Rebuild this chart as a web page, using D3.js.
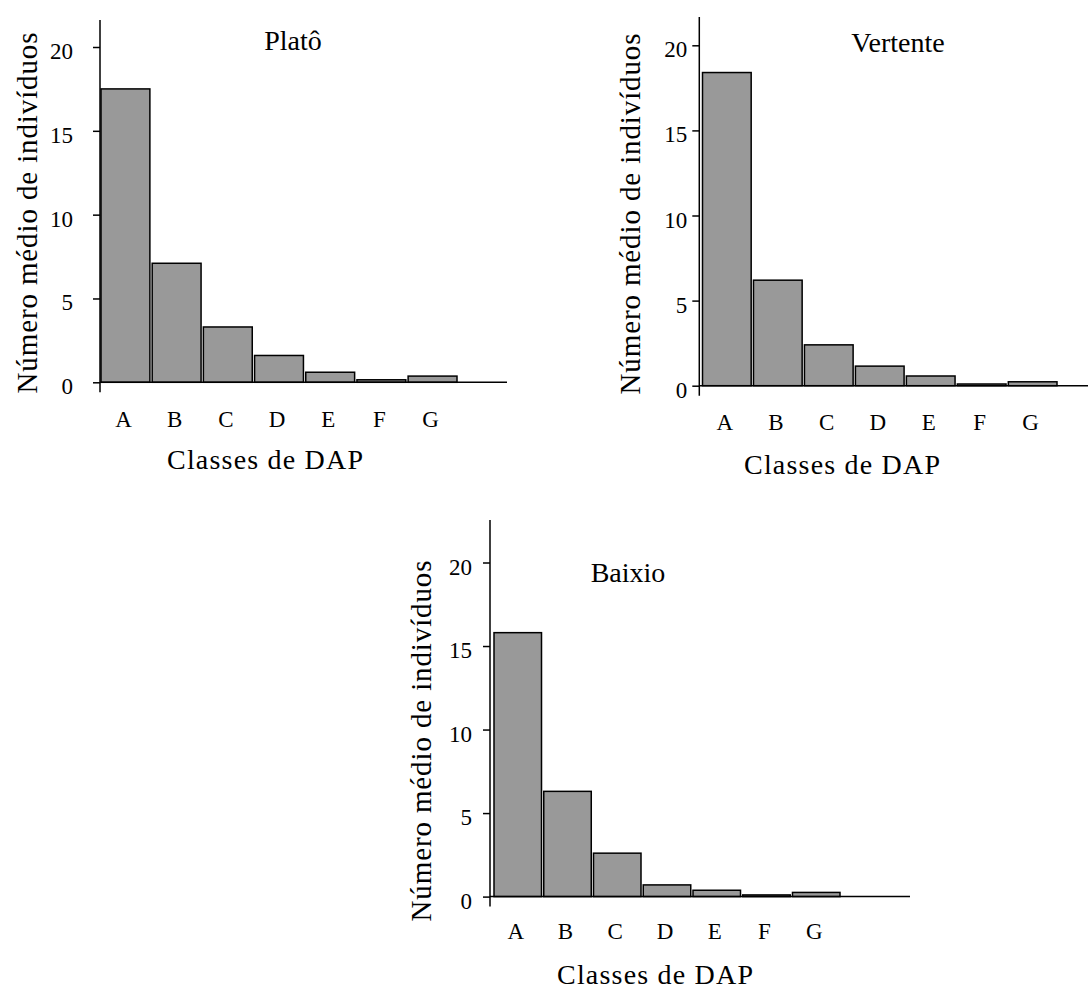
<!DOCTYPE html>
<html>
<head>
<meta charset="utf-8">
<script src="https://cdn.jsdelivr.net/npm/d3@7"></script>
<style>
  html, body { margin: 0; padding: 0; background: #fff; }
  svg { display: block; }
  text { font-family: "Liberation Serif", "Times New Roman", serif; fill: #000; }
</style>
</head>
<body>
<script>
// ---------- data ----------
const categories = ["A", "B", "C", "D", "E", "F", "G"];
const platoValues = [17.5, 7.1, 3.3, 1.6, 0.6, 0.15, 0.37];
const vertenteValues = [18.4, 6.2, 2.4, 1.15, 0.57, 0.1, 0.23];
const baixioValues = [15.8, 6.3, 2.6, 0.7, 0.38, 0.1, 0.25];
const yTickValues = [0, 5, 10, 15, 20];
const panelTitles = ["Platô", "Vertente", "Baixio"];
const xAxisTitle = "Classes de DAP";
const yAxisTitle = "Número médio de indivíduos";

// ---------- layout (pixels) ----------
const layouts = [
  { axisX: 100, y0: 382.3, y20: 47,  yTop: 20,  xEnd: 507,  bandStart: 101, bandEnd: 457,
    tickPad: 20, titleX: 293, titleY: 50, xTitleX: 265, xTitleY: 469, catY: 427, yLabX: 37, yLabY: 213 },
  { axisX: 699.3, y0: 385.7, y20: 45.3, yTop: 17, xEnd: 1088, bandStart: 702.5, bandEnd: 1057,
    tickPad: 5, titleX: 898, titleY: 52, xTitleX: 842, xTitleY: 474, catY: 430, yLabX: 640, yLabY: 214 },
  { axisX: 490, y0: 896.6, y20: 562.5, yTop: 520, xEnd: 910, bandStart: 494, bandEnd: 840,
    tickPad: 11, titleX: 628, titleY: 582, xTitleX: 655, xTitleY: 984, catY: 939, yLabX: 431, yLabY: 741 }
];
const seriesList = [platoValues, vertenteValues, baixioValues];

const W = 1088, H = 992;
const svg = d3.select("body").append("svg").attr("width", W).attr("height", H);
svg.append("rect").attr("width", W).attr("height", H).attr("fill", "#fff");

seriesList.forEach((values, i) => {
  const L = layouts[i];
  const g = svg.append("g");

  const y = d3.scaleLinear().domain([0, 20]).range([L.y0, L.y20]);
  const x = d3.scaleBand().domain(categories).range([L.bandStart, L.bandEnd])
    .paddingInner(0.045).paddingOuter(0);

  // bars
  g.selectAll("rect.bar").data(values).join("rect")
    .attr("class", "bar")
    .attr("x", (d, j) => x(categories[j]))
    .attr("width", x.bandwidth())
    .attr("y", d => y(d))
    .attr("height", d => y(0) - y(d))
    .attr("fill", "#999999")
    .attr("stroke", "#000")
    .attr("stroke-width", 1.5);

  // y axis ticks & labels
  const yAxis = d3.axisLeft(y).tickValues(yTickValues).tickSize(7).tickPadding(L.tickPad)
    .tickFormat(d3.format("d"));
  const ya = g.append("g").attr("transform", `translate(${L.axisX},0)`).call(yAxis);
  ya.select(".domain").remove();
  ya.selectAll(".tick line").attr("stroke", "#000").attr("stroke-width", 1.5);
  ya.selectAll(".tick text")
    .attr("font-family", "Liberation Serif, serif")
    .attr("font-size", 23).attr("dy", "0.5em").attr("fill", "#000");

  // axis lines
  g.append("line")
    .attr("x1", L.axisX).attr("x2", L.axisX)
    .attr("y1", L.yTop).attr("y2", y(0) + 10)
    .attr("stroke", "#000").attr("stroke-width", 1.5);
  g.append("line")
    .attr("x1", L.axisX).attr("x2", L.xEnd)
    .attr("y1", y(0)).attr("y2", y(0))
    .attr("stroke", "#000").attr("stroke-width", 1.5);

  // category labels
  g.selectAll("text.cat").data(categories).join("text")
    .attr("class", "cat")
    .attr("x", d => x(d) + x.bandwidth() / 2 - 2)
    .attr("y", L.catY)
    .attr("text-anchor", "middle")
    .attr("font-size", 23)
    .text(d => d);

  // panel title
  g.append("text")
    .attr("x", L.titleX).attr("y", L.titleY)
    .attr("text-anchor", "middle").attr("font-size", 28)
    .text(panelTitles[i]);

  // x axis title
  g.append("text")
    .attr("x", L.xTitleX).attr("y", L.xTitleY)
    .attr("text-anchor", "middle").attr("font-size", 28)
    .attr("textLength", 196).attr("lengthAdjust", "spacing")
    .text(xAxisTitle);

  // y axis title
  g.append("text")
    .attr("transform", `translate(${L.yLabX},${L.yLabY}) rotate(-90)`)
    .attr("text-anchor", "middle").attr("font-size", 29)
    .attr("textLength", 361).attr("lengthAdjust", "spacing")
    .text(yAxisTitle);
});
</script>
</body>
</html>
